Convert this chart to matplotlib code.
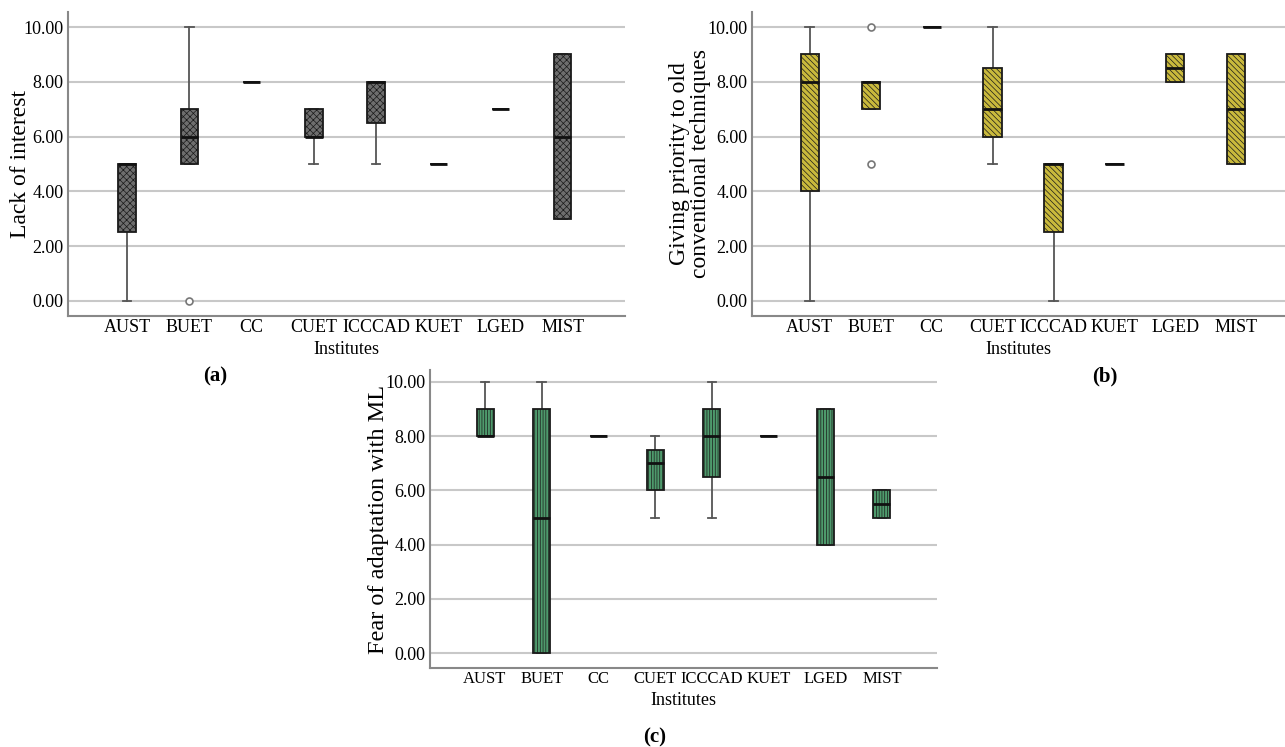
import matplotlib
matplotlib.use("Agg")
import matplotlib.pyplot as plt

plt.rcParams["font.family"] = ["Liberation Serif", "DejaVu Serif"]
plt.rcParams["hatch.linewidth"] = 0.5

institutes = ["AUST", "BUET", "CC", "CUET", "ICCCAD", "KUET", "LGED", "MIST"]

# (a) Lack of interest
a_lo  = [0, 5, 8, 5, 5, 5, 7, 3]
a_q1  = [2.5, 5, 8, 6, 6.5, 5, 7, 3]
a_med = [5, 6, 8, 6, 8, 5, 7, 6]
a_q3  = [5, 7, 8, 7, 8, 5, 7, 9]
a_hi  = [5, 10, 8, 7, 8, 5, 7, 9]
a_fl  = [[], [0], [], [], [], [], [], []]

# (b) Giving priority to old conventional techniques
b_lo  = [0, 7, 10, 5, 0, 5, 8, 5]
b_q1  = [4, 7, 10, 6, 2.5, 5, 8, 5]
b_med = [8, 8, 10, 7, 5, 5, 8.5, 7]
b_q3  = [9, 8, 10, 8.5, 5, 5, 9, 9]
b_hi  = [10, 8, 10, 10, 5, 5, 9, 9]
b_fl  = [[], [10, 5], [], [], [], [], [], []]

# (c) Fear of adaptation with ML
c_lo  = [8, 0, 8, 5, 5, 8, 4, 5]
c_q1  = [8, 0, 8, 6, 6.5, 8, 4, 5]
c_med = [8, 5, 8, 7, 8, 8, 6.5, 5.5]
c_q3  = [9, 9, 8, 7.5, 9, 8, 9, 6]
c_hi  = [10, 10, 8, 8, 10, 8, 9, 6]
c_fl  = [[], [], [], [], [], [], [], []]

W, H = 1285, 747
fig = plt.figure(figsize=(W / 100, H / 100), dpi=100)


def stats(lo, q1, med, q3, hi, fl):
    return [dict(whislo=l, q1=a, med=m, q3=b, whishi=h, fliers=f, label=n)
            for l, a, m, b, h, f, n in zip(lo, q1, med, q3, hi, fl, institutes)]


def panel(rect, st, face, hatch, ylabel, xlim, ylim, ylab_x, ylab_fs, width, xfs=13):
    x0, y0, x1, y1 = rect
    ax = fig.add_axes([x0 / W, 1 - y1 / H, (x1 - x0) / W, (y1 - y0) / H])
    bp = ax.bxp(st, positions=range(1, 9), widths=width, capwidths=width * 0.5,
                patch_artist=True, showfliers=True,
                boxprops=dict(facecolor=face, edgecolor="#1a1a1a", linewidth=1.3, hatch=hatch),
                medianprops=dict(color="#111111", linewidth=2),
                whiskerprops=dict(color="#555555", linewidth=1.3),
                capprops=dict(color="#555555", linewidth=1.3),
                flierprops=dict(marker="o", markersize=5, markerfacecolor="white",
                                markeredgecolor="#777777", markeredgewidth=1.2))
    for b in bp["boxes"]:
        b.set_zorder(3)
    for m in bp["medians"]:
        m.set_zorder(4)
    ax.set_xlim(*xlim)
    ax.set_ylim(*ylim)
    ax.set_yticks(range(0, 11, 2))
    ax.set_yticklabels([f"{v:.2f}" for v in range(0, 11, 2)], fontsize=13)
    ax.set_xticks(range(1, 9))
    ax.set_xticklabels(institutes, fontsize=xfs)
    ax.tick_params(axis="y", length=0, pad=3)
    ax.tick_params(axis="x", length=0, pad=2)
    ax.yaxis.grid(True, color="#c8c8c8", linewidth=1.5)
    ax.set_axisbelow(True)
    for s in ["top", "right"]:
        ax.spines[s].set_visible(False)
    for s in ["left", "bottom"]:
        ax.spines[s].set_color("#888888")
        ax.spines[s].set_linewidth(1.5)
    ax.set_ylabel(ylabel, fontsize=ylab_fs, linespacing=1.0)
    ax.yaxis.set_label_coords(ylab_x, 0.5)
    ax.set_xlabel("Institutes", fontsize=13, labelpad=4)
    return ax


panel((68, 12, 625, 316), stats(a_lo, a_q1, a_med, a_q3, a_hi, a_fl),
      "#6e6e6e", "xxxxx", "Lack of interest", (0.05, 9.0), (-0.55, 10.55), -0.066, 17, 0.28)
panel((752, 12, 1285, 316), stats(b_lo, b_q1, b_med, b_q3, b_hi, b_fl),
      "#c9b93c", "\\" * 6, "Giving priority to old\nconventional techniques",
      (0.05, 8.8), (-0.55, 10.55), -0.076, 17, 0.3)
panel((430, 370, 937, 668), stats(c_lo, c_q1, c_med, c_q3, c_hi, c_fl),
      "#4e9a6c", "|" * 6, "Fear of adaptation with ML", (0.03, 8.97), (-0.55, 10.44), -0.08, 17.5, 0.3,
      xfs=12)

fig.text(215 / W, 1 - 376 / H, "(a)", fontsize=15, fontweight="bold", ha="center", va="center")
fig.text(1105 / W, 1 - 376 / H, "(b)", fontsize=15, fontweight="bold", ha="center", va="center")
fig.text(655 / W, 1 - 737 / H, "(c)", fontsize=15, fontweight="bold", ha="center", va="center")

fig.savefig("out.png", dpi=100, facecolor="white")
